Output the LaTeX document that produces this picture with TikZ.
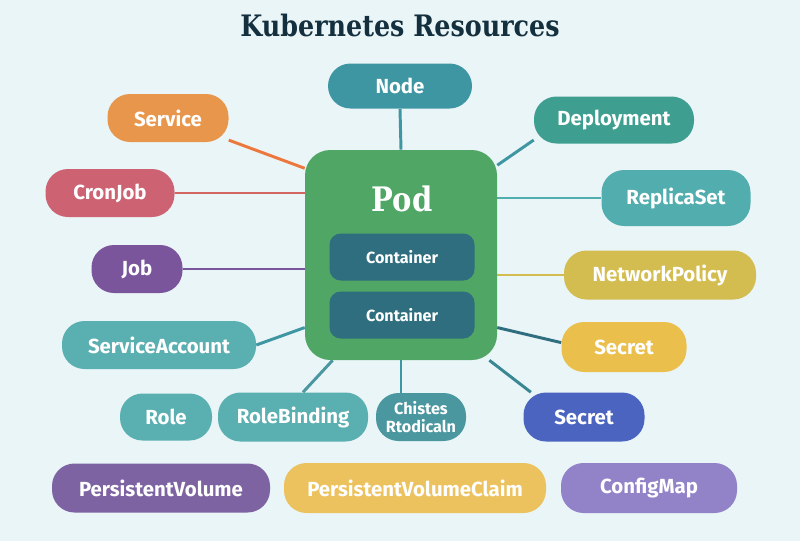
\documentclass[tikz,border=0pt]{standalone}
\usepackage{fontspec}
\setmainfont{Fira Sans}
\newfontfamily\slabfont{DejaVu Serif}[FakeStretch=0.86]
\usetikzlibrary{positioning,backgrounds}

\definecolor{c_bg}{HTML}{EAF5F8}
\definecolor{c_title}{HTML}{14303F}
\definecolor{c_pod}{HTML}{50A665}
\definecolor{c_container}{HTML}{2F6E7E}
\definecolor{c_node}{HTML}{3E96A2}
\definecolor{c_service}{HTML}{E8964C}
\definecolor{c_cronjob}{HTML}{CC6272}
\definecolor{c_job}{HTML}{7A559C}
\definecolor{c_teal}{HTML}{5AAFB1}
\definecolor{c_deployment}{HTML}{3E9E90}
\definecolor{c_replicaset}{HTML}{52ADAE}
\definecolor{c_netpol}{HTML}{D4BD50}
\definecolor{c_secret_y}{HTML}{EBBF4C}
\definecolor{c_secret_b}{HTML}{4A64C0}
\definecolor{c_cluster}{HTML}{4A97A0}
\definecolor{c_pv}{HTML}{7E63A2}
\definecolor{c_pvc}{HTML}{ECC25E}
\definecolor{c_configmap}{HTML}{9283C9}

\begin{document}
\begin{tikzpicture}[
x=0.025cm, y=-0.025cm,
pill/.style={rectangle, rounded corners=16pt, fill=#1, text=white, inner sep=0pt, font=\fontsize{14.5}{17}\selectfont\bfseries},
box_size/.style 2 args={minimum width=#1*0.025cm, minimum height=#2*0.025cm},
link/.style={line width=2.1pt, draw=#1}
]

% title
\node[font=\slabfont\fontsize{21}{25}\selectfont\bfseries, text=c_title](title) at (400,25) {Kubernetes Resources};

% centre: pod with its containers
\node[rectangle, rounded corners=18pt, fill=c_pod, box_size={192}{210}](pod) at (401,255) {};
\node[font=\slabfont\fontsize{24}{28}\selectfont\bfseries, text=white](pod_title) at (402,199) {Pod};
\node[pill=c_container, rounded corners=8pt, box_size={145}{47}, font=\fontsize{11.5}{13}\selectfont\bfseries](container_1) at (402,257) {Container};
\node[pill=c_container, rounded corners=8pt, box_size={145}{47}, font=\fontsize{11.5}{13}\selectfont\bfseries](container_2) at (402,315) {Container};

% resources round the pod
\node[pill=c_node, box_size={144}{45}](node_k8s) at (400,86) {Node};
\node[pill=c_service, box_size={121}{48}](service) at (168,118) {Service};
\node[pill=c_cronjob, box_size={129}{48}](cronjob) at (110,193) {CronJob};
\node[pill=c_job, box_size={91}{48}](job) at (137,269) {Job};
\node[pill=c_teal, box_size={194}{48}](service_account) at (159,345) {ServiceAccount};
\node[pill=c_deployment, box_size={160}{47}](deployment) at (614,120) {Deployment};
\node[pill=c_replicaset, box_size={149}{56}](replicaset) at (676,198) {ReplicaSet};
\node[pill=c_netpol, box_size={192}{49}](network_policy) at (660,275) {NetworkPolicy};
\node[pill=c_secret_y, box_size={125}{50}](secret_1) at (624,347) {Secret};
\node[pill=c_secret_b, box_size={121}{49}](secret_2) at (584,417) {Secret};
\node[pill=c_teal, box_size={92}{47}](role) at (166,417) {Role};
\node[pill=c_teal, box_size={150}{49}](role_binding) at (293,417) {RoleBinding};
\node[pill=c_cluster, box_size={90}{48}, align=center, font=\fontsize{11.5}{12.5}\selectfont\bfseries](cluster_binding) at (421,417) {Chistes\\Rtodicaln};
\node[pill=c_pv, box_size={218}{49}](pv) at (161,488) {PersistentVolume};
\node[pill=c_pvc, box_size={262}{50}](pvc) at (415,488) {PersistentVolumeClaim};
\node[pill=c_configmap, box_size={176}{50}](configmap) at (649,488) {ConfigMap};

% background and links
\begin{pgfonlayer}{background}
\fill[c_bg](0,0) rectangle (800,541);
\draw[link=c_node](node_k8s.south) -- (pod.north);
\draw[link=c_service!80!red](service.-20) -- (pod.138);
\draw[link=c_cronjob!85!orange](cronjob.east) -- (cronjob.east -| pod.west);
\draw[link=c_job](job.east) -- (job.east -| pod.west);
\draw[link=c_node](service_account.east) -- (pod.217);
\draw[link=c_node](deployment.194) -- (pod.43);
\draw[link=c_replicaset](replicaset.west) -- (replicaset.west -| pod.east);
\draw[link=c_netpol](network_policy.west) -- (network_policy.west -| pod.east);
\draw[link=c_container](secret_1.176) -- (pod.-37);
\draw[link=c_node!90!black](secret_2.155) -- (pod.-50);
\draw[link=c_cluster](role_binding.68) -- (pod.237);
\draw[link=c_node](pod.south) -- (pod.south |- cluster_binding.north);
\end{pgfonlayer}
\end{tikzpicture}
\end{document}
